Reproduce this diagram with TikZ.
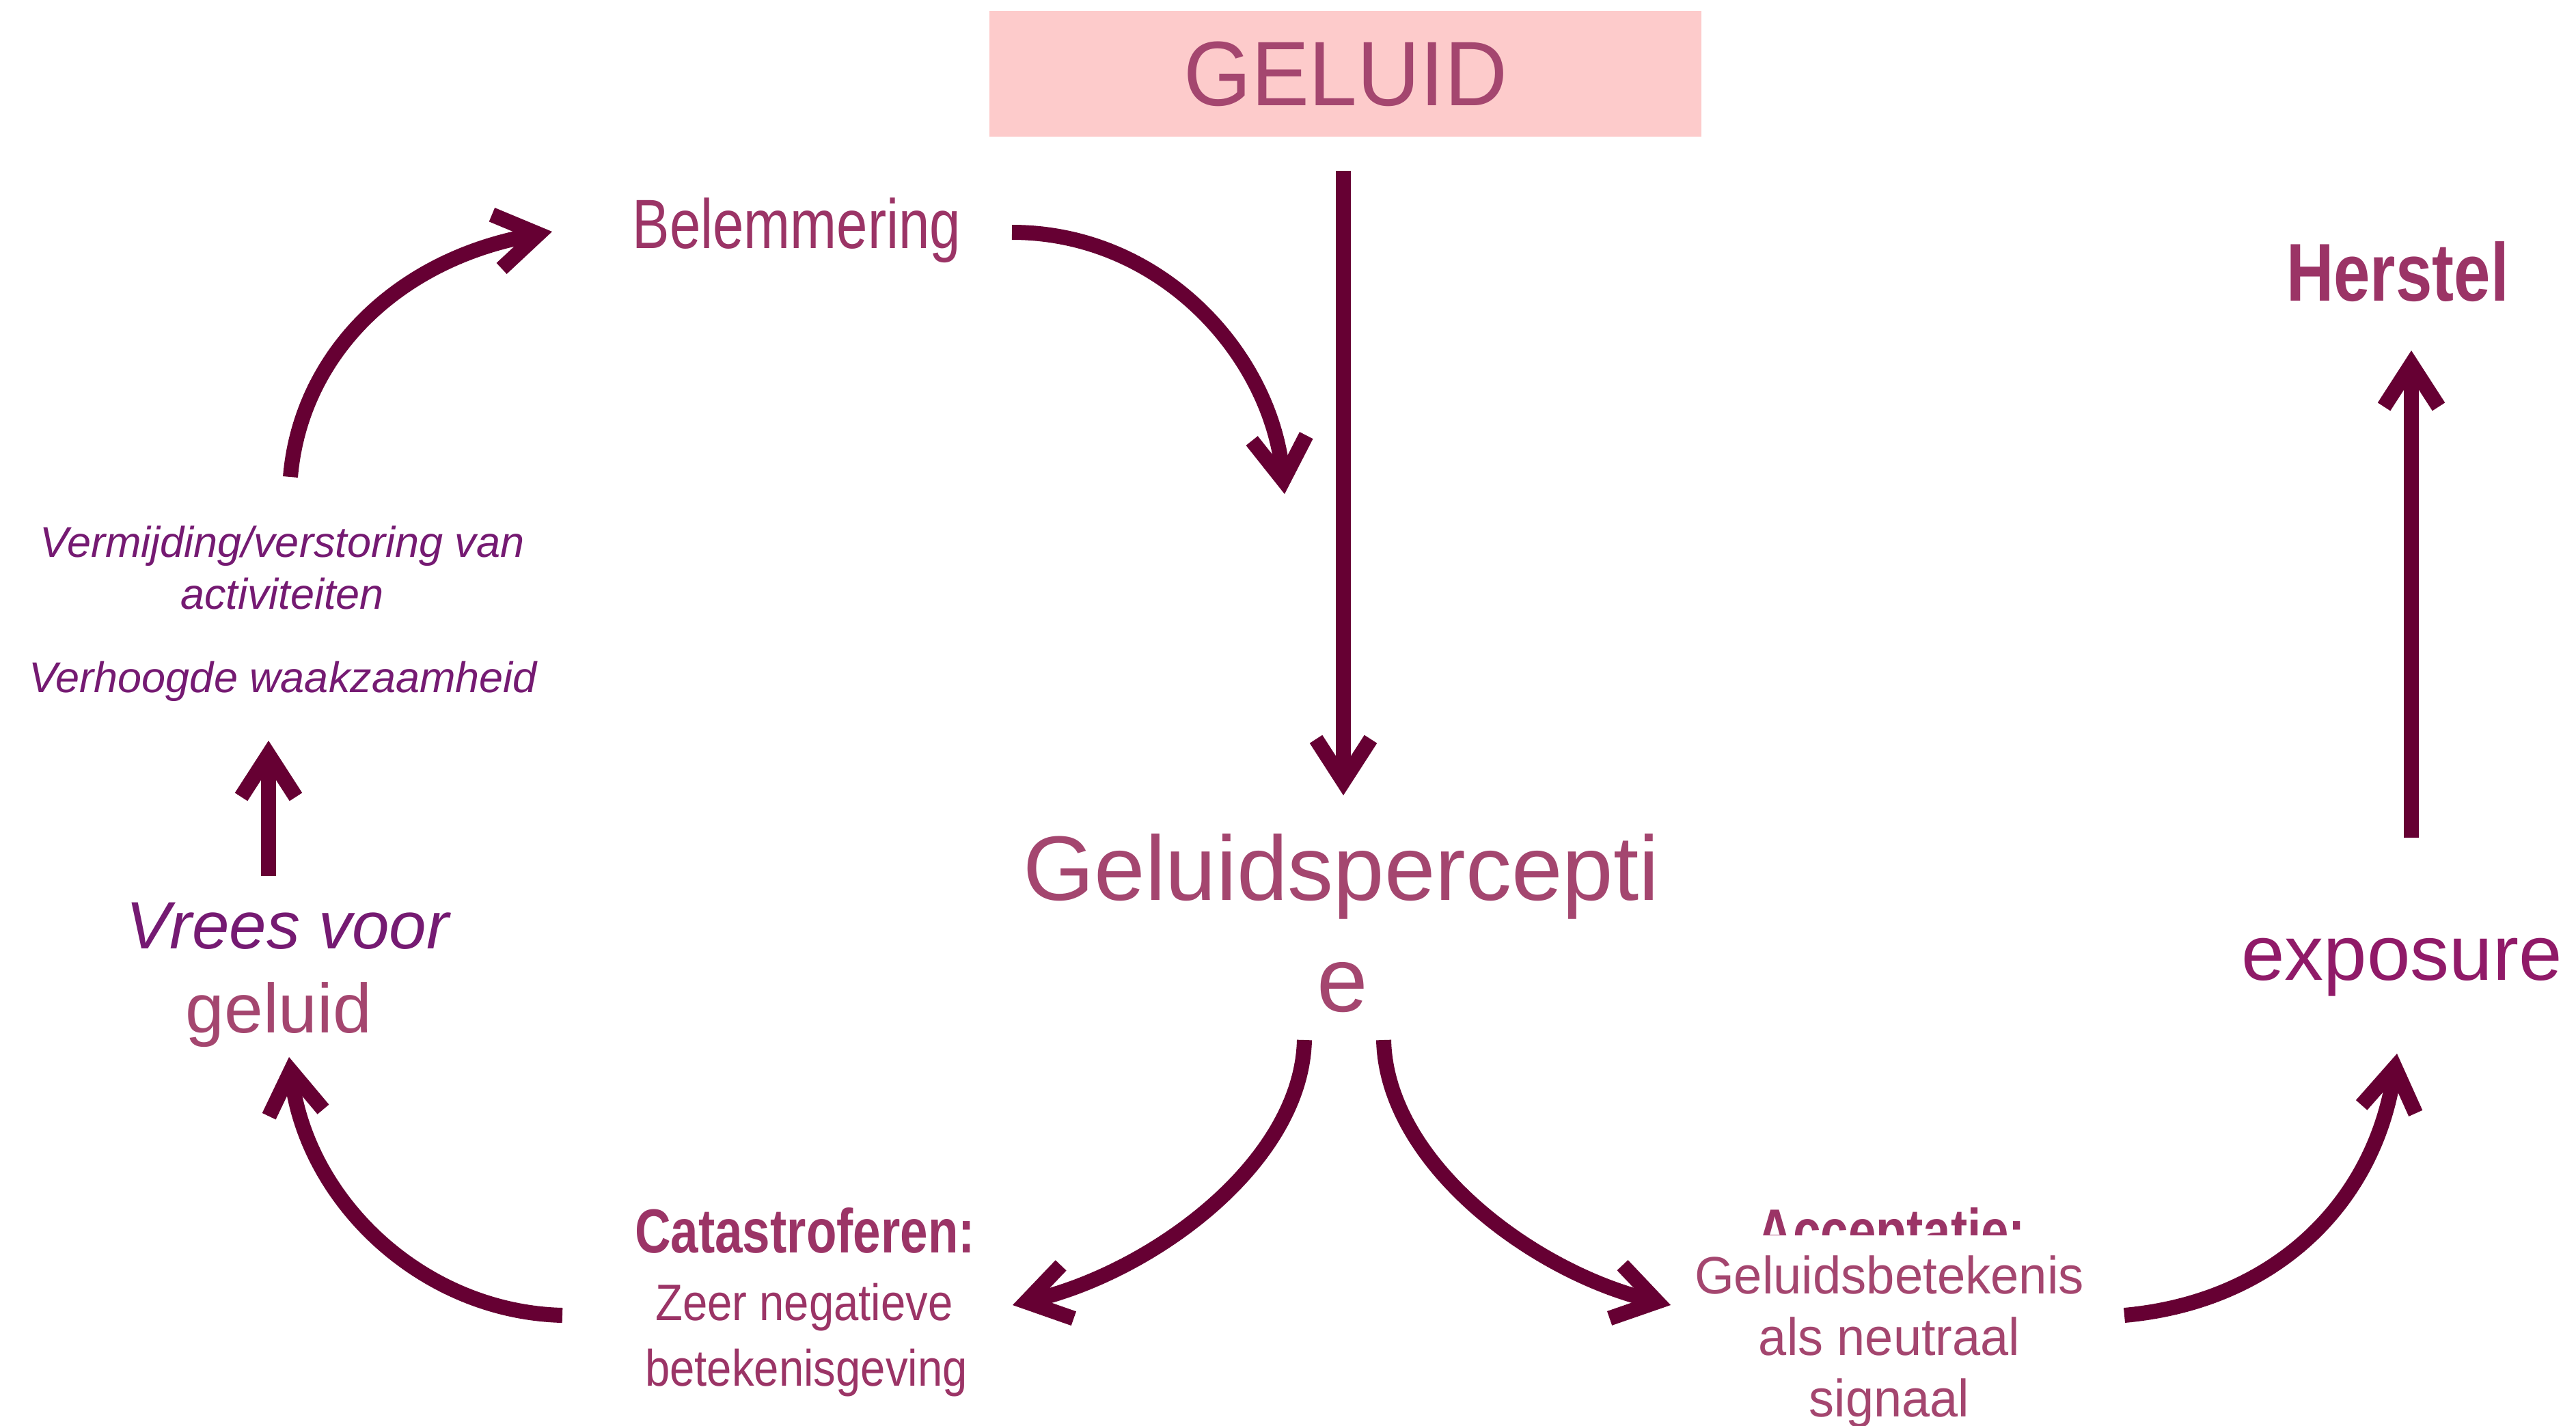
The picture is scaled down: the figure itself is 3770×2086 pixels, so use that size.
\documentclass[tikz,border=0pt]{standalone}
\usepackage{fontspec}
\usepackage{graphicx}
\setmainfont{Liberation Sans}
\usetikzlibrary{arrows.meta}
\definecolor{arrowc}{HTML}{660033}
\definecolor{pinkbox}{HTML}{FDCBCB}
\definecolor{rose}{HTML}{A4466F}
\definecolor{berry}{HTML}{9B3466}
\definecolor{plum}{HTML}{751A72}
\definecolor{expo}{HTML}{901A68}
\newcommand\myfs[1]{\fontsize{#1}{#1}\selectfont}
\tikzset{
  conn/.style={draw=arrowc, line width=22pt, -{Straight Barb[length=62pt,width=80pt]}},
  lbl/.style={inner sep=0pt, anchor=base},
}
\begin{document}
\begin{tikzpicture}[x=1pt,y=-1pt]
\fill[white] (0,0) rectangle (3770,2086);
\useasboundingbox (0,0) rectangle (3770,2086);

% title box
\node[fill=pinkbox, inner sep=0pt, minimum width=1042pt, minimum height=184pt, text=rose]
  (geluid) at (1969,108) {\scalebox{0.95}[1]{\myfs{134}GELUID}};

% labels
\node[lbl, text=berry] (belem) at (1166,363) {\scalebox{0.8}[1]{\myfs{102}Belemmering}};
\node[lbl, text=plum] (verm1) at (413,815) {\myfs{63}\itshape Vermijding/verstoring van};
\node[lbl, text=plum] (verm2) at (413,891) {\myfs{63}\itshape activiteiten};
\node[lbl, text=plum] (verh) at (414,1013) {\myfs{63}\itshape Verhoogde waakzaamheid};
\node[lbl, text=plum] (vrees) at (421,1388) {\myfs{98}\itshape Vrees voor};
\node[lbl, text=rose] (vreesg) at (408,1511) {\myfs{102}geluid};
\node[lbl, text=rose] (perc1) at (1963,1317) {\myfs{134}Geluidspercepti};
\node[lbl, text=rose] (perc2) at (1965,1480) {\myfs{134}e};
\node[lbl, text=berry] (cat1) at (1178,1833) {\scalebox{0.8}[1]{\myfs{91}\bfseries Catastroferen:}};
\node[lbl, text=berry] (cat2) at (1177,1932) {\scalebox{0.87}[1]{\myfs{75}Zeer negatieve}};
\node[lbl, text=berry] (cat3) at (1180,2028) {\scalebox{0.87}[1]{\myfs{75}betekenisgeving}};
\begin{scope}
  \clip (2500,1700) rectangle (3050,1807);
  \node[lbl, text=berry] (acc1) at (2768,1833) {\scalebox{0.8}[1]{\myfs{91}\bfseries Acceptatie:}};
\end{scope}
\node[lbl, text=rose] (acc2) at (2765,1893) {\scalebox{0.965}[1]{\myfs{77}Geluidsbetekenis}};
\node[lbl, text=rose] (acc3) at (2765,1983) {\scalebox{0.96}[1]{\myfs{77}als neutraal}};
\node[lbl, text=rose] (acc4) at (2765,2073) {\scalebox{0.96}[1]{\myfs{77}signaal}};
\node[lbl, text=expo] (expos) at (3515,1434) {\myfs{114}exposure};
\node[lbl, text=berry] (herst) at (3509,440) {\scalebox{0.8}[1]{\myfs{120}\bfseries Herstel}};

% connector end points
\coordinate (gS) at (1966,250);  \coordinate (gE) at (1966,1164);
\coordinate (hS) at (393,1282);  \coordinate (hE) at (393,1084);
\coordinate (iS) at (3529,1226); \coordinate (iE) at (3529,513);
\coordinate (aS) at (1481,340);  \coordinate (aE) at (1880,723);
\coordinate (bS) at (425,698);   \coordinate (bE) at (808,339);
\coordinate (cS) at (823,1925);  \coordinate (cE) at (423,1547);
\coordinate (dS) at (1909,1522); \coordinate (dE) at (1482,1910);
\coordinate (eS) at (2025,1522); \coordinate (eE) at (2445,1910);
\coordinate (fS) at (3109,1925); \coordinate (fE) at (3508,1542);

% connectors
\draw[conn] (gS) -- (gE);
\draw[conn] (hS) -- (hE);
\draw[conn] (iS) -- (iE);
\draw[conn] (aS) .. controls (1700,340) and (1860,520) .. (aE);
\draw[conn] (bS) .. controls (440,520) and (580,380) .. (bE);
\draw[conn] (cS) .. controls (620,1920) and (450,1760) .. (cE);
\draw[conn] (dS) .. controls (1905,1700) and (1690,1860) .. (dE);
\draw[conn] (eS) .. controls (2029,1700) and (2240,1860) .. (eE);
\draw[conn] (fS) .. controls (3330,1905) and (3475,1760) .. (fE);
\end{tikzpicture}
\end{document}
